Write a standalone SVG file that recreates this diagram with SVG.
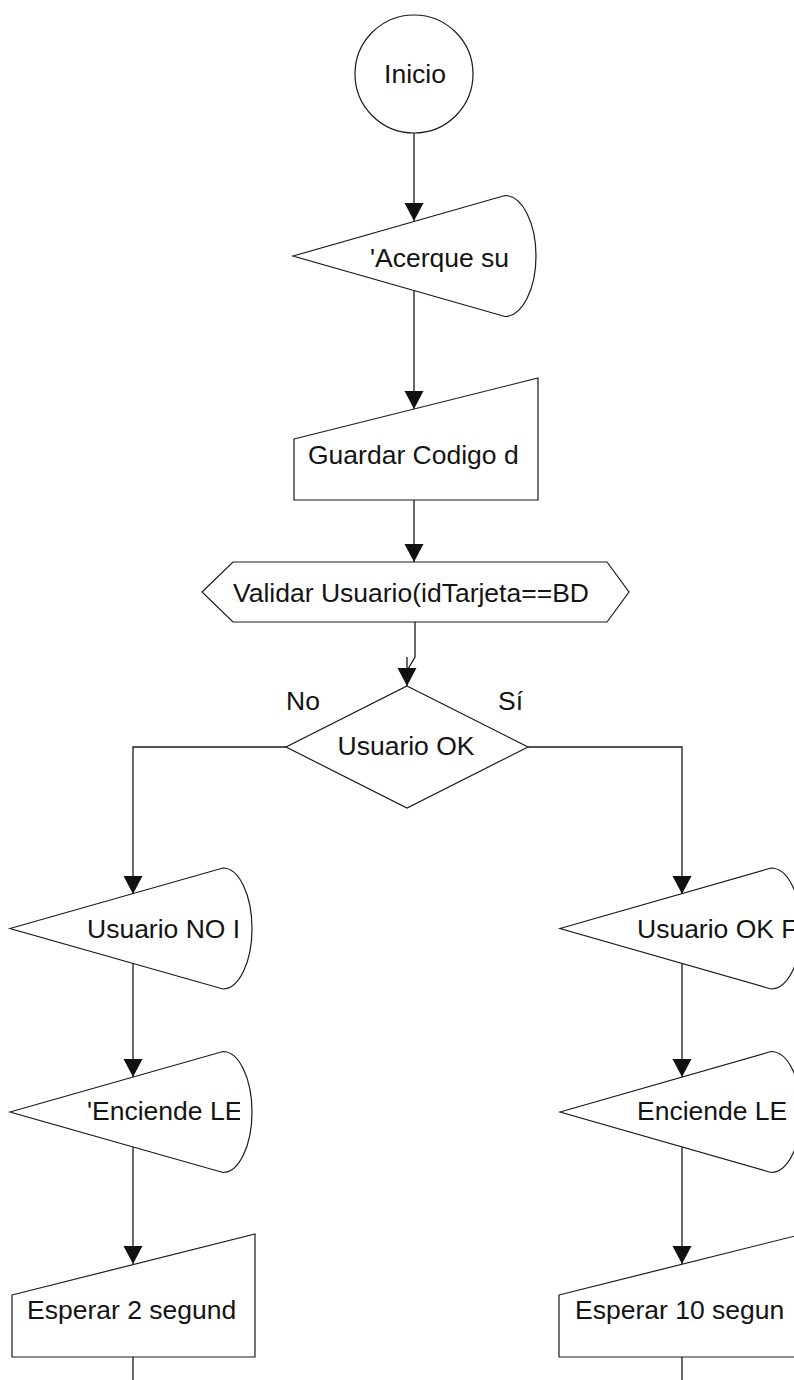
<svg xmlns="http://www.w3.org/2000/svg" width="794" height="1380" viewBox="0 0 794 1380">
  <style>
    .shape { fill: #ffffff; stroke: #1a1a1a; stroke-width: 1.2; }
    .conn { fill: none; stroke: #1a1a1a; stroke-width: 1.3; }
    .lbl { font-family: "Liberation Sans", Arial, sans-serif; font-size: 26.5px; fill: #141414; }
  </style>
  <defs>
    <marker id="arr" markerWidth="20" markerHeight="20" refX="18" refY="9.5" orient="auto" markerUnits="userSpaceOnUse">
      <path d="M0,0 L18,9.5 L0,19 Z" fill="#111111"/>
    </marker>
    <clipPath id="clipLeftDisp2">
      <rect x="0" y="1080" width="240" height="60"/>
    </clipPath>
  </defs>
  <rect x="0" y="0" width="794" height="1380" fill="#ffffff"/>

  <g id="connectors">
    <path class="conn" d="M414,133 V221" marker-end="url(#arr)"/>
    <path class="conn" d="M414,290 V409" marker-end="url(#arr)"/>
    <path class="conn" d="M414,500 V562" marker-end="url(#arr)"/>
    <path class="conn" d="M415,622 V657 L408,669"/>
    <path class="conn" d="M407,657 V686" marker-end="url(#arr)"/>
    <path class="conn" d="M286,747 H133 V894" marker-end="url(#arr)"/>
    <path class="conn" d="M528,747 H682 V894" marker-end="url(#arr)"/>
    <path class="conn" d="M133,964 V1077" marker-end="url(#arr)"/>
    <path class="conn" d="M133,1147 V1264" marker-end="url(#arr)"/>
    <path class="conn" d="M133,1357 V1380"/>
    <path class="conn" d="M682,964 V1077" marker-end="url(#arr)"/>
    <path class="conn" d="M682,1147 V1264" marker-end="url(#arr)"/>
    <path class="conn" d="M682,1357 V1380"/>
  </g>

  <g id="inicio">
    <circle class="shape" cx="414" cy="74" r="59"/>
    <text class="lbl" x="415" y="83" text-anchor="middle">Inicio</text>
  </g>

  <g id="acerque">
    <path class="shape" d="M293,256 L505,195.5 C522,195.5 536,222.6 536,256 C536,289.4 522,316.5 505,316.5 Z"/>
    <text class="lbl" x="370" y="267">'Acerque su</text>
  </g>

  <g id="guardar">
    <path class="shape" d="M294,439 L538,378 V500 H294 Z"/>
    <text class="lbl" x="308" y="464">Guardar Codigo d</text>
  </g>

  <g id="validar">
    <polygon class="shape" points="202,592 233,562 607,562 629,592 607,622 233,622"/>
    <text class="lbl" x="233" y="602">Validar Usuario(idTarjeta==BD</text>
  </g>

  <g id="decision">
    <polygon class="shape" points="407,686 528,747 407,808 286,747"/>
    <text class="lbl" x="406" y="755" text-anchor="middle">Usuario OK</text>
    <text class="lbl" x="286" y="710">No</text>
    <text class="lbl" x="498" y="710">Sí</text>
  </g>

  <g id="usuario-no">
    <path class="shape" d="M10,928.5 L223,868 C239,868 252,895 252,928.5 C252,962 239,989 223,989 Z"/>
    <text class="lbl" x="87" y="938">Usuario NO I</text>
  </g>

  <g id="enciende-izq">
    <path class="shape" d="M10,1112 L223,1051.5 C239,1051.5 252,1078.6 252,1112 C252,1145.4 239,1172.5 223,1172.5 Z"/>
    <text class="lbl" x="87" y="1120" clip-path="url(#clipLeftDisp2)">'Enciende LE</text>
  </g>

  <g id="esperar-2">
    <path class="shape" d="M12,1295 L255,1234 V1357 H12 Z"/>
    <text class="lbl" x="27" y="1319">Esperar 2 segund</text>
  </g>

  <g id="usuario-ok">
    <path class="shape" d="M560,928.5 L771,868 C788,868 801,895 801,928.5 C801,962 788,989 771,989 Z"/>
    <text class="lbl" x="637" y="938">Usuario OK F</text>
  </g>

  <g id="enciende-der">
    <path class="shape" d="M560,1112 L771,1051.5 C788,1051.5 801,1078.6 801,1112 C801,1145.4 788,1172.5 771,1172.5 Z"/>
    <text class="lbl" x="637" y="1120">Enciende LE</text>
  </g>

  <g id="esperar-10">
    <path class="shape" d="M559,1295 L803,1234 V1357 H559 Z"/>
    <text class="lbl" x="575" y="1319">Esperar 10 segun</text>
  </g>
</svg>
